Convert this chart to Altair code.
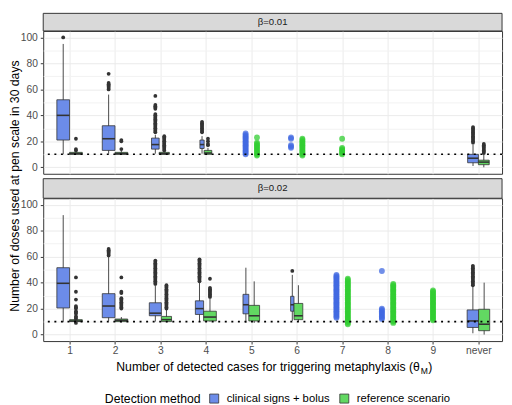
import json
import altair as alt
import pandas as pd

# ---------------- data ----------------
METHODS = ["clinical signs + bolus", "reference scenario"]
PANELS = ["β=0.01", "β=0.02"]
X_LABELS = ["1", "2", "3", "4", "5", "6", "7", "8", "9", "never"]
THRESHOLD = 10
Y_TITLE = "Number of doses used at pen scale in 30 days"
X_TITLE = "Number of detected cases for triggering metaphylaxis (θ"
X_TITLE_SUB = "M"
X_TITLE_END = ")"
LEGEND_TITLE = "Detection method"

# beta = 0.01 : boxplot statistics (method 0 = bolus, 1 = reference)
BOX1_CAT = [1, 1, 2, 2, 3, 3, 4, 4, 10, 10]
BOX1_METHOD = [0, 1, 0, 1, 0, 1, 0, 1, 0, 1]
BOX1_LOW = [10, 10, 10.5, 10, 10.5, 10, 10.5, 10, 1, 0]
BOX1_Q1 = [21, 10, 13, 10, 14, 10, 14.5, 10, 3.5, 2]
BOX1_MED = [40, 10.5, 22, 10.5, 17.5, 10.5, 17.5, 11, 7, 4]
BOX1_Q3 = [52, 11.5, 32, 11.5, 22.5, 11.5, 21, 13, 10, 5.5]
BOX1_HIGH = [95, 12.5, 56, 13, 25, 12, 24, 15, 17.5, 10]
BOX1_SHARE = [1, 1, 1, 1, 0.36, 0.64, 0.11, 0.36, 0.72, 0.72]
BOX1_OUTLIERS = [
    [100],
    [13, 14, 22],
    [60, 61, 62, 63, 64, 65, 72],
    [14, 20, 21],
    [27, 28, 29, 30, 31, 32, 33, 34, 35, 36, 37, 38, 39, 40, 41, 45, 46, 47, 48, 55],
    [13, 14, 15, 16, 17, 18, 19, 20, 21, 22, 23, 24],
    [27, 28, 29, 30, 31, 32, 33, 34, 35],
    [17, 18, 20, 22],
    [19, 20, 21, 22, 23, 24, 25, 26, 27, 28, 29, 30, 31],
    [11, 12, 13, 14, 15, 16, 17, 18],
]
# beta = 0.01 : single simulated values drawn as coloured points
PTS1_CAT = [5, 5, 6, 6, 7]
PTS1_METHOD = [0, 1, 0, 1, 1]
PTS1_VALUES = [
    [10, 11, 12, 13, 14, 15, 16, 17, 18, 19, 20, 21, 22, 23, 24, 25, 26],
    [9, 10, 11, 12, 13, 14, 15, 16, 17, 18, 19, 23],
    [15, 16, 17, 22, 23],
    [9, 10, 11, 12, 13, 14, 15, 16, 17, 18, 19, 20, 21, 22],
    [10, 11, 12, 13, 14, 15, 22],
]

# beta = 0.02 : boxplot statistics
BOX2_CAT = [1, 1, 2, 2, 3, 3, 4, 4, 5, 5, 6, 6, 10, 10]
BOX2_METHOD = [0, 1, 0, 1, 0, 1, 0, 1, 0, 1, 0, 1, 0, 1]
BOX2_LOW = [9.5, 9.5, 10.5, 9.5, 10, 9.5, 10, 10, 9, 9, 10.5, 10, 1, 0]
BOX2_Q1 = [20.5, 10, 13, 10, 14.5, 10, 15.5, 10.5, 16, 10.5, 18, 11.5, 5.5, 3]
BOX2_MED = [39.5, 10.5, 22, 11, 16.5, 11.5, 20, 13.5, 23, 14.5, 23, 14.5, 10.5, 8]
BOX2_Q3 = [51.5, 11.5, 31.5, 12, 24.5, 14, 26, 18, 31, 22.5, 29.5, 24, 19, 19.5]
BOX2_HIGH = [92, 12, 60, 13.5, 38, 19, 40, 28, 51.5, 41, 46, 38, 37, 40]
BOX2_SHARE = [1, 1, 1, 1, 0.9, 0.64, 0.42, 1, 0.21, 0.72, 0.07, 0.48, 0.81, 0.76]
BOX2_OUTLIERS = [
    [],
    [9, 12, 13, 14, 16, 17, 18, 20, 21, 22, 27, 33, 44],
    [61, 62, 63, 64, 65, 66],
    [20, 21, 22, 23, 24, 25, 26, 27, 28, 32, 33, 44],
    [39, 40, 41, 42, 43, 44, 45, 46, 47, 48, 49, 50, 51, 52, 53, 54, 55, 56, 57],
    [20, 21, 22, 23, 24, 25, 26, 27, 28, 29, 30, 31, 32, 33, 34, 35, 36, 37, 38],
    [41, 42, 43, 44, 45, 46, 47, 48, 49, 50, 51, 52, 53, 54, 55, 56, 57, 58],
    [29, 30, 31, 32, 33, 34, 35, 36, 43],
    [],
    [],
    [49],
    [],
    [38, 39, 40, 41, 42, 43, 44, 45, 46, 47, 48, 49, 50, 51, 52, 53],
    [],
]
PTS2_CAT = [7, 7, 8, 8, 9]
PTS2_METHOD = [0, 1, 0, 1, 1]
PTS2_VALUES = [
    [13, 14, 15, 16, 17, 18, 19, 20, 21, 22, 23, 24, 25, 26, 27, 28, 29, 30, 31,
     32, 33, 34, 35, 36, 37, 38, 39, 40, 41, 42, 43, 44, 45, 46],
    [8, 9, 10, 11, 12, 13, 14, 15, 16, 17, 18, 19, 20, 21, 22, 23, 24, 25, 26,
     27, 28, 29, 30, 31, 32, 33, 34, 35, 36, 37, 38, 39, 40, 41, 42, 43],
    [12, 13, 14, 15, 16, 17, 18, 19, 20, 49],
    [9, 10, 11, 12, 13, 14, 15, 16, 17, 18, 19, 20, 21, 22, 23, 24, 25, 26, 27,
     28, 29, 30, 31, 32, 33, 34, 35, 36, 37, 38, 39],
    [11, 12, 13, 14, 15, 16, 17, 18, 19, 20, 21, 22, 23, 24, 25, 26, 27, 28, 29,
     30, 31, 32, 33, 34],
]

# ---------------- styling ----------------
FILL_COLORS = ["#6C8CE9", "#62D862"]
POINT_COLORS = ["#4169E1", "#32CD32"]
DARK = "#333333"
FONT = "Liberation Sans"
W = 469
H = 146
BOX_MAX_WIDTH = 0.28
DODGE = 0.125

XS = alt.Scale(domain=[0.42, 10.52], nice=False, zero=False)
YS = alt.Scale(domain=[-5, 105], nice=False, zero=False)

major = "datum.value % 20 === 0"
y_axis = alt.Axis(
    values=list(range(0, 101, 10)),
    labelExpr=f"{major} ? datum.label : ''",
    title=None, domain=False,
    tickColor=DARK, tickSize=3,
    tickOpacity={"condition": {"test": major, "value": 1}, "value": 0},
    labelColor="#4D4D4D", labelFontSize=10.5, labelPadding=3,
    gridColor={"condition": {"test": major, "value": "#EBEBEB"}, "value": "#F2F2F2"},
    gridWidth=1,
)


def x_axis(show):
    if show:
        return alt.Axis(
            values=list(range(1, 11)),
            labelExpr=json.dumps(X_LABELS) + "[datum.value - 1]",
            title=None, domain=False, tickColor=DARK, tickSize=3,
            labelColor="#4D4D4D", labelFontSize=10.5, labelPadding=2,
            gridColor="#EBEBEB", gridWidth=1,
        )
    return alt.Axis(values=list(range(1, 11)), labels=False, ticks=False,
                    domain=False, title=None, gridColor="#EBEBEB", gridWidth=1)


def box_frame(cat, meth, low, q1, med, q3, high, share, outl):
    return pd.DataFrame({
        "cat": cat, "method": [METHODS[m] for m in meth], "low": low, "q1": q1,
        "med": med, "q3": q3, "high": high, "share": share, "outliers": outl,
    })


def pts_frame(cat, meth, vals):
    return pd.DataFrame({"cat": cat, "method": [METHODS[m] for m in meth], "v": vals})


def panel(idx, box_df, pts_df, show_x, strip_h):
    xa = x_axis(show_x)
    isb = f"datum.method == '{METHODS[0]}'"
    base = (
        alt.Chart(box_df)
        .transform_calculate(w=f"{BOX_MAX_WIDTH} * sqrt(datum.share)")
        .transform_joinaggregate(total="sum(w)", groupby=["cat"])
        .transform_calculate(
            xs=f"{isb} ? datum.cat - datum.total / 2 : datum.cat + datum.total / 2 - datum.w")
        .transform_calculate(xe="datum.xs + datum.w", xc="datum.xs + datum.w / 2")
    )
    whisk = base.mark_rule(color=DARK, strokeWidth=0.9).encode(
        x=alt.X("xc:Q", scale=XS, axis=xa),
        y=alt.Y("low:Q", scale=YS, axis=y_axis),
        y2="high:Q",
    )
    if show_x:
        leg = alt.Legend(
            title=LEGEND_TITLE, orient="none", legendX=63, legendY=199,
            direction="horizontal", titleOrient="left", titlePadding=8,
            titleFontSize=12.5, titleFontWeight="normal", titleColor="black",
            titleFont=FONT, labelFont=FONT, labelFontSize=11.5, labelColor="black",
            symbolType="square", symbolSize=85, symbolStrokeColor=DARK,
            symbolStrokeWidth=0.8, labelOffset=7, columnPadding=8,
        )
    else:
        leg = None
    boxes = base.mark_rect(stroke=DARK, strokeWidth=0.8).encode(
        x=alt.X("xs:Q", scale=XS, axis=xa), x2="xe:Q",
        y=alt.Y("q1:Q", scale=YS, axis=y_axis), y2="q3:Q",
        fill=alt.Fill("method:N", scale=alt.Scale(domain=METHODS, range=FILL_COLORS),
                      legend=leg),
    )
    meds = base.mark_rule(color=DARK, strokeWidth=1.6).encode(
        x=alt.X("xs:Q", scale=XS, axis=xa), x2="xe:Q",
        y=alt.Y("med:Q", scale=YS, axis=y_axis),
    )
    outs = base.transform_flatten(["outliers"]).mark_circle(
        color=DARK, opacity=1, size=15).encode(
        x=alt.X("xc:Q", scale=XS, axis=xa),
        y=alt.Y("outliers:Q", scale=YS, axis=y_axis),
    )
    pts = (
        alt.Chart(pts_df)
        .transform_flatten(["v"])
        .transform_joinaggregate(nm="distinct(method)", groupby=["cat"])
        .transform_calculate(
            xp=f"datum.nm > 1 ? datum.cat + ({isb} ? -{DODGE} : {DODGE}) : datum.cat")
        .mark_circle(size=36, opacity=0.75)
        .encode(
            x=alt.X("xp:Q", scale=XS, axis=xa),
            y=alt.Y("v:Q", scale=YS, axis=y_axis),
            color=alt.condition(isb, alt.value(POINT_COLORS[0]), alt.value(POINT_COLORS[1])),
        )
    )
    thr = alt.Chart(pd.DataFrame({"t": [THRESHOLD]})).mark_rule(
        color="black", strokeWidth=1.6, strokeDash=[2, 4.7]).encode(
        y=alt.Y("t:Q", scale=YS, axis=y_axis))
    strip_df = pd.DataFrame({"label": [PANELS[idx]]})
    strip = alt.Chart(strip_df).mark_rect(fill="#D9D9D9", stroke=DARK, strokeWidth=1).encode(
        x=alt.value(0), x2=alt.value(W), y=alt.value(-strip_h), y2=alt.value(0))
    strip_txt = alt.Chart(strip_df).mark_text(
        fontSize=9.8, color="#1A1A1A", font=FONT, align="center", baseline="middle").encode(
        text="label:N", x=alt.value(W / 2), y=alt.value(-strip_h / 2))
    layers = [whisk, boxes, meds, outs, pts, thr, strip, strip_txt]
    if show_x:
        ttl = pd.DataFrame({"a": [X_TITLE], "b": [X_TITLE_SUB], "c": [X_TITLE_END], "y": [Y_TITLE]})
        tc = alt.Chart(ttl)
        layers += [
            tc.mark_text(align="right", baseline="alphabetic", fontSize=12.5,
                         color="black", font=FONT).encode(
                text="a:N", x=alt.value(385), y=alt.value(177)),
            tc.mark_text(align="left", baseline="alphabetic", fontSize=8.75,
                         color="black", font=FONT).encode(
                text="b:N", x=alt.value(386), y=alt.value(180)),
            tc.mark_text(align="left", baseline="alphabetic", fontSize=12.5,
                         color="black", font=FONT).encode(
                text="c:N", x=alt.value(393.5), y=alt.value(177)),
            tc.mark_text(align="center", baseline="middle", fontSize=12.5, angle=270,
                         color="black", font=FONT).encode(
                text="y:N", x=alt.value(-28.75), y=alt.value(-12.5)),
        ]
    return alt.layer(*layers).properties(width=W, height=H)


box1 = box_frame(BOX1_CAT, BOX1_METHOD, BOX1_LOW, BOX1_Q1, BOX1_MED, BOX1_Q3,
                 BOX1_HIGH, BOX1_SHARE, BOX1_OUTLIERS)
box2 = box_frame(BOX2_CAT, BOX2_METHOD, BOX2_LOW, BOX2_Q1, BOX2_MED, BOX2_Q3,
                 BOX2_HIGH, BOX2_SHARE, BOX2_OUTLIERS)
pts1 = pts_frame(PTS1_CAT, PTS1_METHOD, PTS1_VALUES)
pts2 = pts_frame(PTS2_CAT, PTS2_METHOD, PTS2_VALUES)

p1 = panel(0, box1, pts1, False, 18)
p2 = panel(1, box2, pts2, True, 20)

chart = (
    alt.vconcat(p1, p2, spacing=25, bounds="flush")
    .resolve_scale(fill="independent")
    .resolve_legend(fill="independent")
    .properties(padding=0)
    .configure(font=FONT)
    .configure_view(stroke=DARK, strokeWidth=1)
)

chart.save("out.html", embed_options={"renderer": "svg", "actions": False})
